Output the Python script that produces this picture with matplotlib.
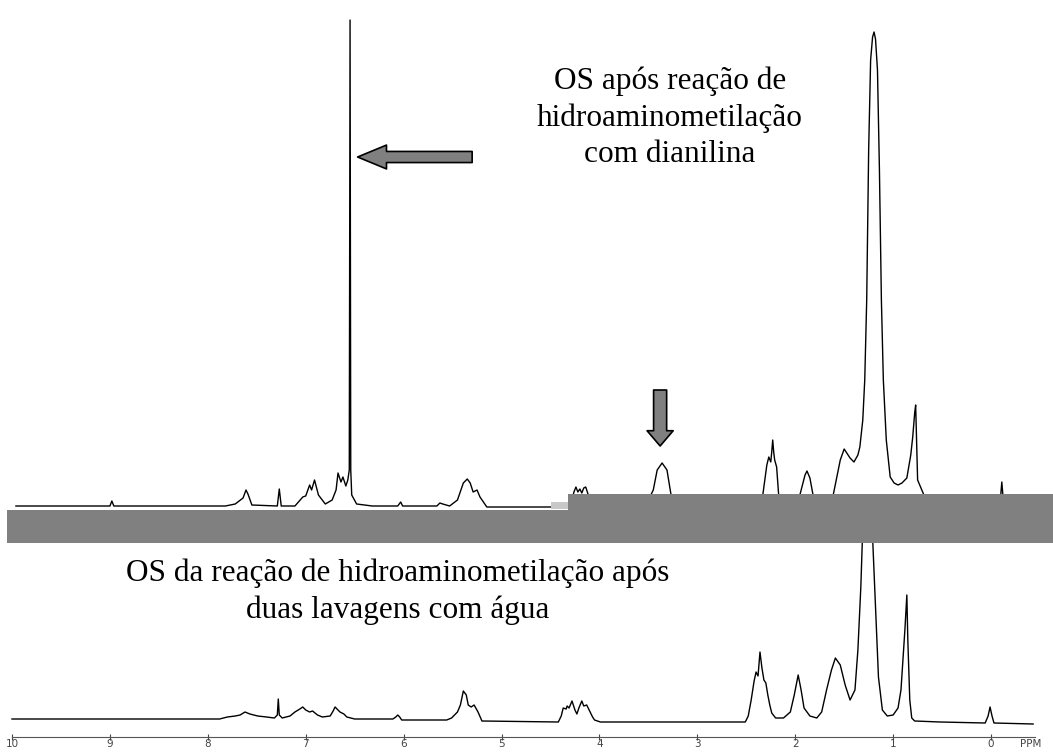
import matplotlib.pyplot as plt
from matplotlib.patches import Rectangle

# upper spectrum: OS after hydroaminomethylation with dianiline
up_ppm = [9.96, 9.00, 8.98, 8.96, 7.82, 7.72, 7.64, 7.61, 7.59, 7.55, 7.29, 7.27, 7.25,
          7.11, 7.03, 7.00, 6.96, 6.94, 6.91, 6.87, 6.80, 6.73, 6.69, 6.67, 6.64, 6.62,
          6.59, 6.57, 6.555, 6.547, 6.540, 6.53, 6.48, 6.32, 6.06, 6.03, 6.01, 5.66, 5.63,
          5.60, 5.53, 5.45, 5.39, 5.35, 5.32, 5.29, 5.25, 5.22, 5.15, 4.45, 4.30, 4.26,
          4.24, 4.22, 4.20, 4.18, 4.16, 4.14, 4.12, 4.08, 3.53, 3.45, 3.41, 3.36, 3.31,
          3.27, 3.22, 2.41, 2.33, 2.29, 2.27, 2.25, 2.24, 2.23, 2.22, 2.21, 2.19, 2.17,
          2.13, 2.00, 1.95, 1.90, 1.88, 1.85, 1.82, 1.77, 1.66, 1.61, 1.54, 1.50, 1.44,
          1.40, 1.36, 1.34, 1.31, 1.29, 1.27, 1.25, 1.23, 1.21, 1.195, 1.18, 1.16, 1.14,
          1.12, 1.10, 1.07, 1.03, 0.99, 0.95, 0.91, 0.86, 0.82, 0.80, 0.78, 0.77, 0.75,
          0.69, 0.64, -0.09, -0.11, -0.13, -0.50]
up_int = [231, 231, 236, 231, 231, 233, 239, 247, 243, 232, 231, 248, 231,
          231, 240, 241, 252, 247, 257, 242, 233, 237, 247, 264, 255, 260,
          251, 257, 267, 717, 267, 242, 233, 231, 231, 235, 231, 231, 234,
          233, 231, 237, 254, 258, 254, 245, 247, 240, 230, 230, 231, 245,
          250, 245, 248, 244, 249, 250, 244, 231, 231, 247, 267, 274, 267,
          243, 231, 231, 243, 272, 280, 275, 285, 297, 285, 277, 270, 243,
          231, 231, 243, 262, 266, 259, 243, 231, 231, 243, 277, 288, 279,
          275, 282, 290, 317, 357, 437, 587, 677, 700, 705, 698, 667, 567,
          437, 357, 297, 260, 254, 252, 254, 259, 282, 300, 324, 332, 257,
          243, 231, 231, 255, 231, 231]

# lower spectrum: OS after two water washes
lo_ppm = [10.0, 7.88, 7.80, 7.72, 7.67, 7.62, 7.57, 7.49, 7.40, 7.32, 7.29, 7.28, 7.27,
          7.24, 7.16, 7.11, 7.06, 7.03, 7.00, 6.96, 6.93, 6.88, 6.83, 6.75, 6.72, 6.70,
          6.67, 6.65, 6.61, 6.58, 6.50, 6.11, 6.08, 6.06, 6.04, 6.02, 5.56, 5.51, 5.45,
          5.42, 5.39, 5.36, 5.34, 5.31, 5.28, 5.24, 5.20, 4.42, 4.39, 4.37, 4.34, 4.33,
          4.31, 4.28, 4.25, 4.23, 4.21, 4.18, 4.16, 4.13, 4.10, 4.07, 4.05, 3.99, 2.51,
          2.48, 2.45, 2.42, 2.40, 2.38, 2.36, 2.34, 2.32, 2.30, 2.28, 2.26, 2.24, 2.20,
          2.12, 2.05, 2.01, 1.97, 1.94, 1.91, 1.85, 1.78, 1.73, 1.68, 1.63, 1.59, 1.54,
          1.49, 1.44, 1.39, 1.36, 1.33, 1.30, 1.26, 1.23, 1.21, 1.18, 1.15, 1.11, 1.06,
          1.00, 0.95, 0.92, 0.90, 0.88, 0.86, 0.85, 0.83, 0.81, 0.78, 0.52, 0.06, 0.03,
          0.01, -0.01, -0.03, -0.43]
lo_int = [18, 18, 20, 21, 22, 25, 23, 21, 20, 19, 22, 38, 22,
          19, 21, 25, 28, 30, 27, 25, 26, 22, 20, 21, 26, 30,
          27, 25, 23, 20, 18, 18, 20, 22, 20, 17, 17, 19, 25,
          32, 46, 42, 32, 30, 32, 25, 16, 15, 21, 29, 28, 31,
          29, 36, 27, 23, 29, 36, 31, 32, 26, 20, 17, 15, 15,
          21, 37, 56, 65, 61, 85, 69, 57, 54, 42, 32, 24, 19,
          19, 25, 42, 62, 47, 29, 21, 19, 25, 47, 67, 79, 72,
          52, 37, 47, 87, 150, 240, 437, 300, 200, 130, 60, 27, 21,
          22, 29, 47, 77, 107, 142, 97, 37, 19, 16, 15, 14, 21,
          30, 21, 14, 13]

ppm_ticks = [10, 9, 8, 7, 6, 5, 4, 3, 2, 1, 0]

top_label = "OS após reação de\nhidroaminometilação\ncom dianilina"
bottom_label = "OS da reação de hidroaminometilação após\nduas lavagens com água"

fig = plt.figure(figsize=(10.53, 7.53), dpi=100)
ax = fig.add_axes([12 / 1053, 16 / 753, 1023 / 1053, 737 / 753])
ax.set_xlim(10.0, -0.449)
ax.set_ylim(0, 737)

ax.plot(up_ppm, up_int, color='black', lw=1.0, zorder=2)
lower, = ax.plot(lo_ppm, lo_int, color='black', lw=1.0, zorder=2)
# lower trace disappears under the grey strip
lower.set_clip_path(Rectangle((-0.7, 0), 10.8, 194, transform=ax.transData))

# grey strip separating the two spectra
ax.fill([10.05, 4.32, 4.32, -0.70, -0.70, 10.05], [227, 227, 243, 243, 194, 194],
        color='#808080', lw=0, zorder=3, clip_on=False)
ax.fill([4.49, 4.32, 4.32, 4.49], [228, 228, 235, 235], color='#c8c8c8', lw=0, zorder=3)

# arrows
ax.annotate('', xy=(6.47, 580), xytext=(5.30, 580),
            arrowprops=dict(arrowstyle='simple,head_length=1.04,head_width=0.86,tail_width=0.40',
                            fc='#808080', ec='black', lw=1.2, shrinkA=0, shrinkB=0,
                            mutation_scale=20))
ax.annotate('', xy=(3.38, 291), xytext=(3.38, 347),
            arrowprops=dict(arrowstyle='simple,head_length=0.55,head_width=0.94,tail_width=0.47',
                            fc='#808080', ec='black', lw=1.2, shrinkA=0, shrinkB=0,
                            mutation_scale=20))

ax.text(3.28, 619, top_label, ha='center', va='center', fontsize=22.5,
        family='Liberation Serif', linespacing=1.33)
ax.text(6.06, 145, bottom_label, ha='center', va='center', fontsize=22.5,
        family='Liberation Serif', linespacing=1.33)

for s in ['top', 'left', 'right']:
    ax.spines[s].set_visible(False)
ax.spines['bottom'].set_color('#555555')
ax.set_yticks([])
ax.set_xticks(ppm_ticks)
ax.set_xticklabels([str(t) for t in ppm_ticks])
ax.tick_params(axis='x', direction='inout', length=5, pad=-1, labelsize=7.5,
               colors='#444444')
for lab in ax.get_xticklabels():
    lab.set_family(['Liberation Sans Narrow', 'DejaVu Sans'])
ax.text(-0.40, -7, 'PPM', ha='center', va='center', fontsize=7.5, color='#444444',
        family=['Liberation Sans Narrow', 'DejaVu Sans'], clip_on=False)

fig.savefig('out.png', dpi=100)
